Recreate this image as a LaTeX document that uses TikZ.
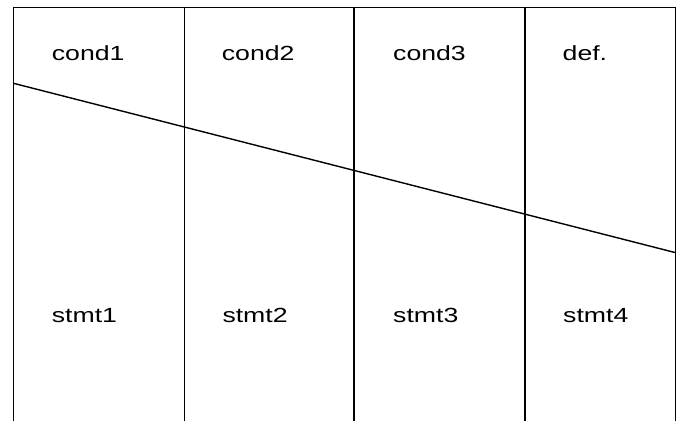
\documentclass[tikz,border=0pt]{standalone}
\usepackage{fontspec}
\usepackage{graphicx}
\setmainfont{Liberation Sans}
\begin{document}
\begin{tikzpicture}[x=1pt,y=-1pt,
  grid/.style={line width=1.4pt, black},
  lbl/.style={anchor=base west, inner sep=0pt, font=\fontsize{20.5}{24}\selectfont},
]
\useasboundingbox (0,0) rectangle (683,421);
% frame corners and column rules
\coordinate (tl) at (13.5,7.5);
\coordinate (tr) at (675.7,7.5);
\coordinate (bl) at (13.5,421);
\coordinate (br) at (675.7,421);
\coordinate (c1t) at (184.3,7.5);
\coordinate (c1b) at (184.3,421);
\coordinate (c2t) at (354,7.5);
\coordinate (c2b) at (354,421);
\coordinate (c3t) at (525,7.5);
\coordinate (c3b) at (525,421);
% ends of the slanted line
\coordinate (sl) at (13.5,83.3);
\coordinate (sr) at (675.7,252.7);

\draw[grid] (bl) -- (tl) -- (tr) -- (br);
\draw[grid] (c1t) -- (c1b);
\draw[grid] (c2t) -- (c2b);
\draw[grid] (c3t) -- (c3b);
\draw[grid] (sl) -- (sr);

% conditions
\node[lbl] (k1) at (51.7,60.7) {\scalebox{1.3}[1]{cond1}};
\node[lbl] (k2) at (221.7,60.7) {\scalebox{1.3}[1]{cond2}};
\node[lbl] (k3) at (393,60.7) {\scalebox{1.3}[1]{cond3}};
\node[lbl] (k4) at (562.5,60.7) {\scalebox{1.3}[1]{def.}};
% statements
\node[lbl] (s1) at (51.7,322.3) {\scalebox{1.3}[1]{stmt1}};
\node[lbl] (s2) at (222.3,322.3) {\scalebox{1.3}[1]{stmt2}};
\node[lbl] (s3) at (393,322.3) {\scalebox{1.3}[1]{stmt3}};
\node[lbl] (s4) at (563,322.3) {\scalebox{1.3}[1]{stmt4}};
\end{tikzpicture}
\end{document}
